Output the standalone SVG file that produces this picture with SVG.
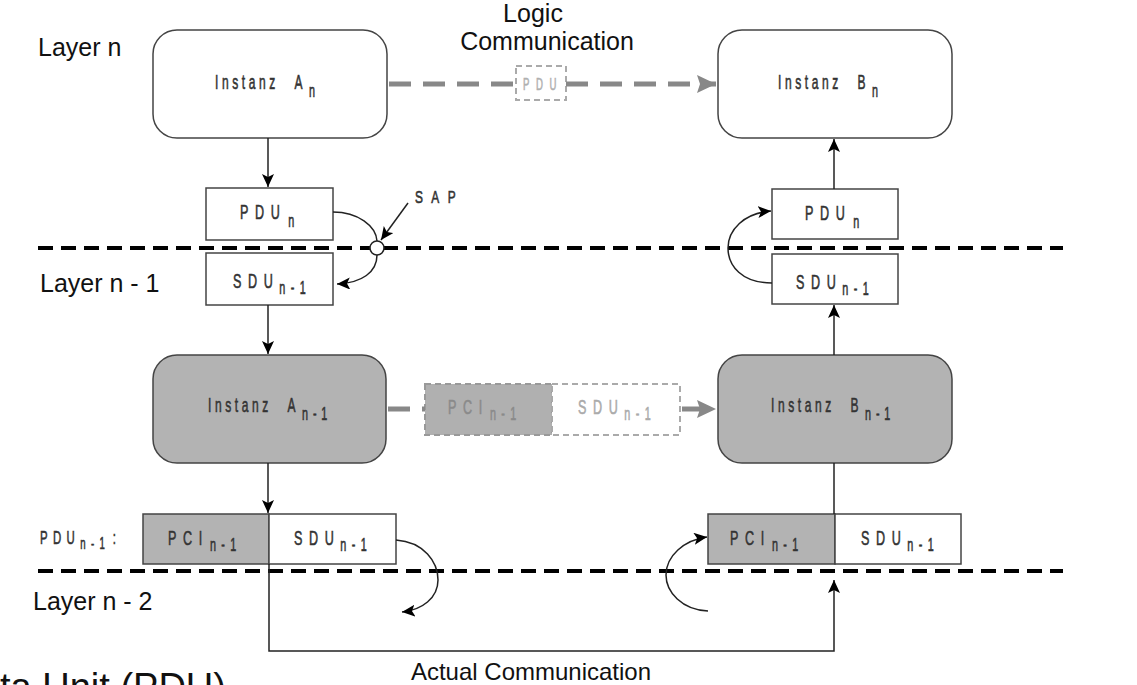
<svg xmlns="http://www.w3.org/2000/svg" width="1137" height="685" viewBox="0 0 1137 685">
<style>
.big{font-family:"Liberation Sans",Arial,sans-serif;font-size:25px;fill:#111}
.lbl{font-family:"Liberation Sans",Arial,sans-serif;font-size:21px;letter-spacing:11px;fill:#333;stroke:#333;stroke-width:0.6}
.sub{font-size:18px;letter-spacing:9px}
.ins{font-size:20px;letter-spacing:6px}
.isub{font-size:18px;letter-spacing:8px}
.box{stroke:#444;stroke-width:1.5}
.white{fill:#fff}
.gray{fill:#b3b3b3}
.layer{stroke:#000;stroke-width:4;stroke-dasharray:15 8;fill:none}
.conn{stroke:#222;stroke-width:1.5;fill:none}
.gconn{stroke:#888;stroke-width:5;stroke-dasharray:22 12;fill:none}
.dbox{stroke:#aaa;stroke-width:2;stroke-dasharray:6 4}
</style>
<defs>
<marker id="ah" markerUnits="userSpaceOnUse" markerWidth="14" markerHeight="12" refX="13" refY="6" orient="auto">
<path d="M0,0 L13,6 L0,12 L3,6 z" fill="#000"/>
</marker>
<marker id="gah" markerUnits="userSpaceOnUse" markerWidth="20" markerHeight="18" refX="19" refY="9" orient="auto">
<path d="M0,0 L19,9 L0,18 L3,9 z" fill="#888"/>
</marker>
</defs>
<rect width="1137" height="685" fill="#fff"/>

<g id="layer-lines">
<line class="layer" x1="38" y1="248" x2="1063" y2="248"/>
<line class="layer" x1="38" y1="571" x2="1063" y2="571"/>
</g>

<g id="labels">
<text class="big" x="38" y="56">Layer n</text>
<text class="big" x="40" y="292">Layer n - 1</text>
<text class="big" x="33" y="610">Layer n - 2</text>
<text class="big" x="533" y="22" text-anchor="middle">Logic</text>
<text class="big" x="547" y="50" text-anchor="middle">Communication</text>
<text class="big" x="531" y="680" text-anchor="middle" style="font-size:24px">Actual Communication</text>
<text class="big" x="0" y="700" style="font-size:38px">ta Unit (PDU)</text>
<text class="lbl" transform="translate(40,544) scale(0.6,1)" style="font-size:19px;letter-spacing:9px">PDU<tspan style="font-size:16px;letter-spacing:9px" dy="5">n-1</tspan><tspan dx="4" dy="-5">:</tspan></text>
<text class="lbl" transform="translate(415,203) scale(0.7,1)" style="font-size:17px;letter-spacing:12px">SAP</text>
</g>

<g id="instanz-an">
<rect class="box white" x="153" y="30" width="234" height="108" rx="24"/>
<text class="lbl ins" transform="translate(215,89) scale(0.6,1)">Instanz<tspan dx="26">A</tspan><tspan class="isub" dx="5" dy="8">n</tspan></text>
</g>
<g id="instanz-bn">
<rect class="box white" x="718" y="30" width="234" height="108" rx="24"/>
<text class="lbl ins" transform="translate(778,89) scale(0.6,1)">Instanz<tspan dx="26">B</tspan><tspan class="isub" dx="5" dy="8">n</tspan></text>
</g>
<g id="instanz-an1">
<rect class="box gray" x="153" y="355" width="233" height="108" rx="24"/>
<text class="lbl ins" transform="translate(208,412) scale(0.6,1)">Instanz<tspan dx="26">A</tspan><tspan class="isub" dx="5" dy="8">n-1</tspan></text>
</g>
<g id="instanz-bn1">
<rect class="box gray" x="718" y="355" width="234" height="108" rx="24"/>
<text class="lbl ins" transform="translate(771,412) scale(0.6,1)">Instanz<tspan dx="26">B</tspan><tspan class="isub" dx="5" dy="8">n-1</tspan></text>
</g>

<g id="pdu-n-left">
<rect class="box white" x="206" y="188" width="127" height="52"/>
<text class="lbl" transform="translate(240,219) scale(0.6,1)">PDU<tspan class="sub" dx="3" dy="8">n</tspan></text>
</g>
<g id="sdu-n1-left">
<rect class="box white" x="206" y="253" width="127" height="52"/>
<text class="lbl" transform="translate(233,288) scale(0.6,1)">SDU<tspan class="sub" dy="6">n-1</tspan></text>
</g>
<g id="pdu-n-right">
<rect class="box white" x="772" y="189" width="126" height="50"/>
<text class="lbl" transform="translate(805,220) scale(0.6,1)">PDU<tspan class="sub" dx="3" dy="8">n</tspan></text>
</g>
<g id="sdu-n1-right">
<rect class="box white" x="772" y="254" width="126" height="50"/>
<text class="lbl" transform="translate(796,289) scale(0.6,1)">SDU<tspan class="sub" dy="6">n-1</tspan></text>
</g>

<g id="pdu-n1-left">
<rect class="box gray" x="143" y="514" width="126" height="50"/>
<rect class="box white" x="269" y="514" width="127" height="50"/>
<text class="lbl" transform="translate(168,545) scale(0.6,1)">PCI<tspan class="sub" dx="2" dy="6">n-1</tspan></text>
<text class="lbl" transform="translate(294,545) scale(0.6,1)">SDU<tspan class="sub" dy="6">n-1</tspan></text>
</g>
<g id="pdu-n1-right">
<rect class="box gray" x="708" y="514" width="127" height="50"/>
<rect class="box white" x="835" y="514" width="126" height="50"/>
<text class="lbl" transform="translate(730,545) scale(0.6,1)">PCI<tspan class="sub" dx="2" dy="6">n-1</tspan></text>
<text class="lbl" transform="translate(861,545) scale(0.6,1)">SDU<tspan class="sub" dy="6">n-1</tspan></text>
</g>

<g id="logic-pdu">
<rect class="dbox" x="516" y="66" width="50" height="34" fill="#fff"/>
<text class="lbl" transform="translate(523,90) scale(0.6,1)" style="fill:#b0b0b0;stroke:#b0b0b0;font-size:16px;letter-spacing:11px">PDU</text>
</g>
<g id="logic-pdu-n1">
<rect class="dbox" x="425" y="384" width="127" height="51" fill="#b0b0b0" style="stroke:#999"/>
<rect class="dbox" x="552" y="384" width="128" height="51" fill="#fff"/>
<text class="lbl" transform="translate(448,414) scale(0.6,1)" style="fill:#8a8a8a;stroke:#8a8a8a">PCI<tspan class="sub" dx="2" dy="6">n-1</tspan></text>
<text class="lbl" transform="translate(578,414) scale(0.6,1)" style="fill:#aaa;stroke:#aaa">SDU<tspan class="sub" dy="6">n-1</tspan></text>
</g>

<g id="sap">
<circle cx="377" cy="248" r="7" fill="#fff" stroke="#222" stroke-width="1.5"/>
</g>

<g id="connectors">
<line class="gconn" x1="389" y1="84" x2="516" y2="84"/>
<line class="gconn" x1="566" y1="84" x2="716" y2="84" marker-end="url(#gah)"/>
<line class="gconn" x1="388" y1="409" x2="425" y2="409"/>
<line class="gconn" x1="682" y1="409" x2="716" y2="409" stroke-dasharray="none" marker-end="url(#gah)"/>

<line class="conn" x1="268" y1="138" x2="268" y2="187" marker-end="url(#ah)"/>
<line class="conn" x1="268" y1="305" x2="268" y2="354" marker-end="url(#ah)"/>
<line class="conn" x1="268" y1="463" x2="268" y2="513" marker-end="url(#ah)"/>
<line class="conn" x1="834" y1="189" x2="834" y2="139" marker-end="url(#ah)"/>
<line class="conn" x1="834" y1="355" x2="834" y2="305" marker-end="url(#ah)"/>
<line class="conn" x1="834" y1="463" x2="834" y2="514"/>

<path class="conn" d="M333,212 C358,212 376,226 377,241"/>
<path class="conn" d="M377,255 C377,272 362,283 337,284" marker-end="url(#ah)"/>
<path class="conn" d="M408,203 L381,240" marker-end="url(#ah)"/>
<path class="conn" d="M772,283 C742,283 728,266 728,248 C728,230 744,213 771,211" marker-end="url(#ah)"/>
<path class="conn" d="M396,540 C424,542 438,562 438,580 C438,598 422,610 402,612" marker-end="url(#ah)"/>
<path class="conn" d="M708,611 C682,610 666,592 666,575 C666,556 684,540 707,537" marker-end="url(#ah)"/>
<path class="conn" d="M269,564 L269,651 L834,651 L834,580" marker-end="url(#ah)"/>
</g>
</svg>
